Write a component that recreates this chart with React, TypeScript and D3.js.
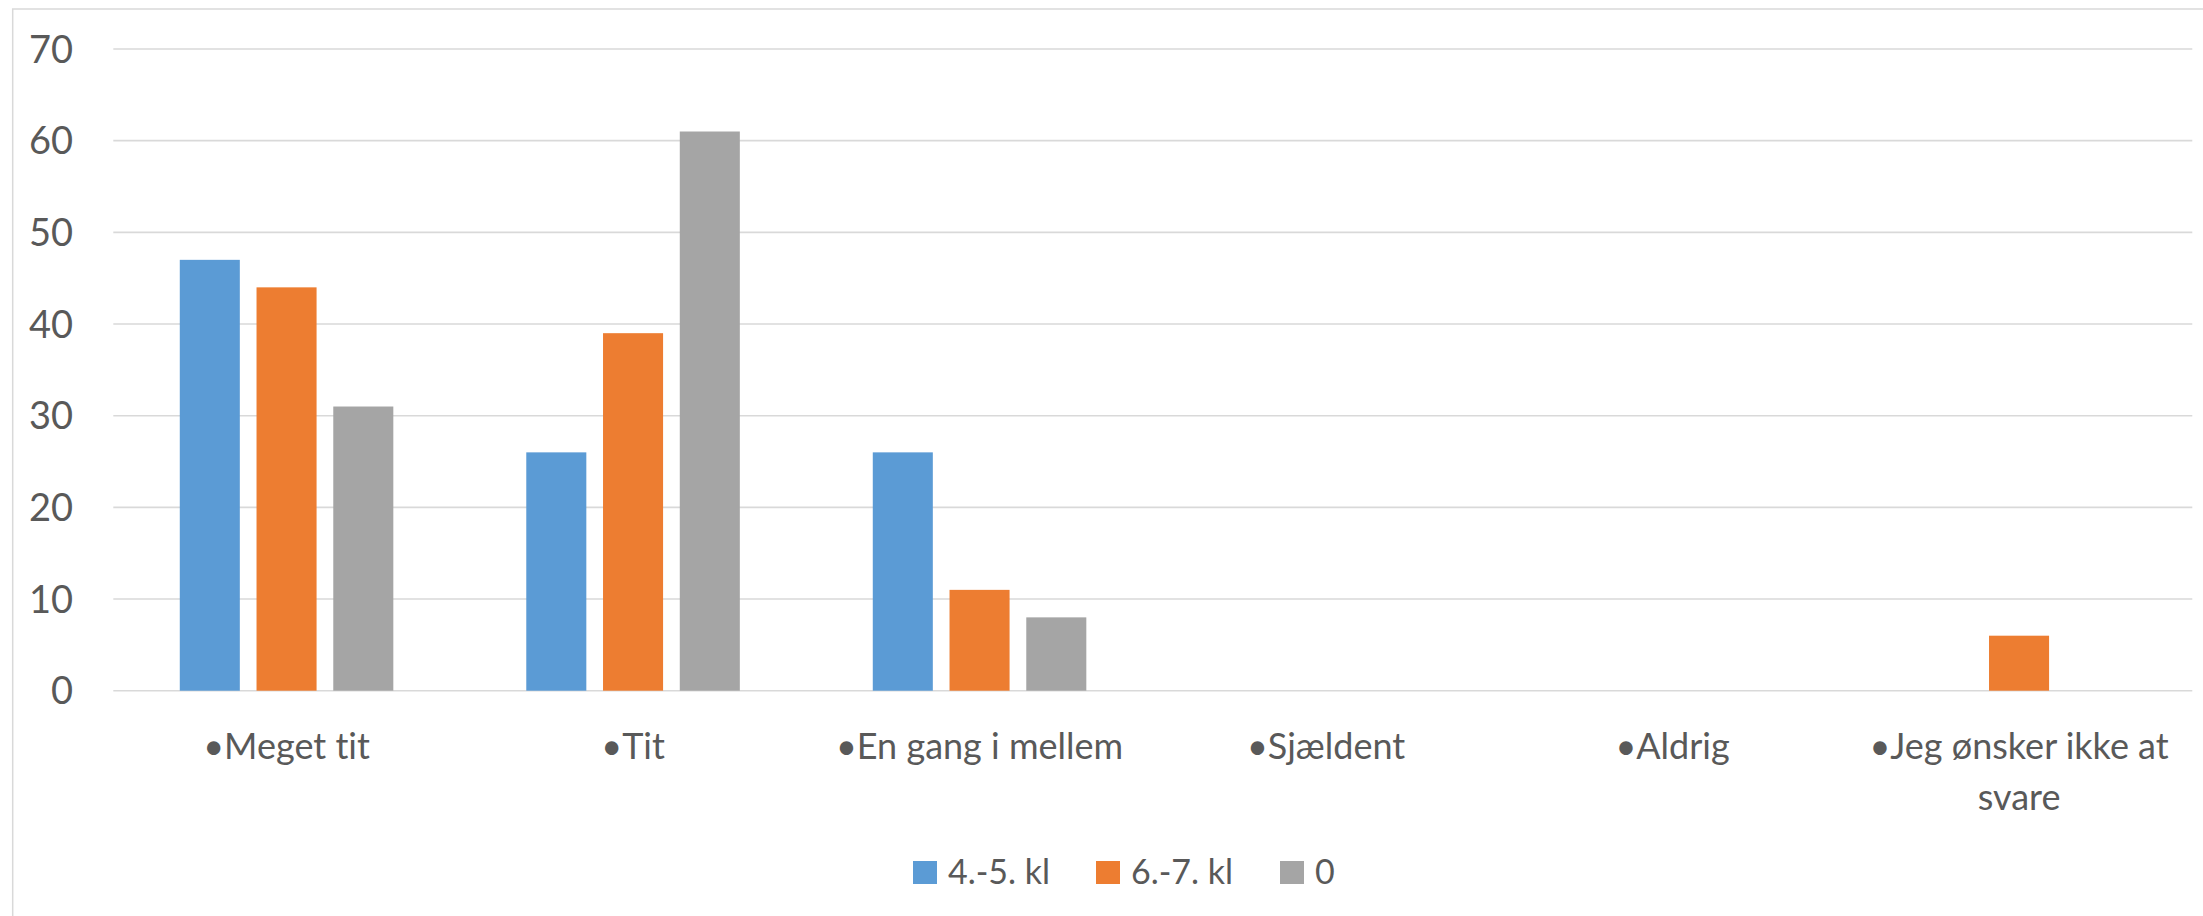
import React from "react";
import * as d3 from "d3";

const categories = [
  "Meget tit",
  "Tit",
  "En gang i mellem",
  "Sjældent",
  "Aldrig",
  "Jeg ønsker ikke at svare",
];
const seriesNames = ["4.-5. kl", "6.-7. kl", "0"];
const series45 = [47, 26, 26, 0, 0, 0];
const series67 = [44, 39, 11, 0, 0, 6];
const series0 = [31, 61, 8, 0, 0, 0];
const colors = ["#5B9BD5", "#ED7D31", "#A5A5A5"];
const yTicks = [0, 10, 20, 30, 40, 50, 60, 70];

const W = 2203;
const H = 916;
const FONT = "Lato, 'Open Sans', sans-serif";
const TEXT = "#595959";
const noLig = { fontVariantLigatures: "none", fontFeatureSettings: '"liga" 0, "clig" 0' } as React.CSSProperties;

export default function App() {
  const allSeries = [series45, series67, series0];
  const x0 = 113.3;
  const x1 = 2192.3;
  const yZero = 690.7;
  const yTop = 49;

  const x = d3.scaleBand<string>().domain(categories).range([x0, x1]).padding(0);
  const y = d3.scaleLinear().domain([0, 70]).range([yZero, yTop]);
  const band = x.bandwidth();
  const barW = band * 0.1733;
  const step = band * 0.2215;
  const groupW = 2 * step + barW;

  const wrapLabels: Record<string, string[]> = {
    "Jeg ønsker ikke at svare": ["•Jeg ønsker ikke at", "svare"],
  };

  const legendItems = [
    { name: seriesNames[0], sx: 913 },
    { name: seriesNames[1], sx: 1096 },
    { name: seriesNames[2], sx: 1280 },
  ];

  return (
    <svg
      width={W}
      height={H}
      style={{ position: "absolute", left: 0, top: 0, background: "#fff" }}
    >
      <rect x={0} y={0} width={W} height={H} fill="#fff" />
      <rect
        x={12.7}
        y={9}
        width={W + 50}
        height={H + 50}
        fill="none"
        stroke="#d9d9d9"
        strokeWidth={1.5}
      />
      {yTicks.map((t) => (
        <line
          key={"g" + t}
          x1={x0}
          x2={x1}
          y1={y(t)}
          y2={y(t)}
          stroke="#d9d9d9"
          strokeWidth={1.6}
        />
      ))}
      {yTicks.map((t) => (
        <text
          key={"t" + t}
          x={73}
          y={y(t) + 13.5}
          textAnchor="end"
          fontFamily={FONT}
          fontSize={38}
          fill={TEXT}
        >
          {t}
        </text>
      ))}
      {allSeries.map((vals, si) =>
        vals.map((v, ci) => {
          if (v <= 0) return null;
          const cx = (x(categories[ci]) as number) + band / 2;
          const bx = cx - groupW / 2 + si * step;
          return (
            <rect
              key={`b${si}-${ci}`}
              x={bx}
              y={y(v)}
              width={barW}
              height={yZero - y(v)}
              fill={colors[si]}
            />
          );
        })
      )}
      {categories.map((c) => {
        const cx = (x(c) as number) + band / 2;
        const lines = wrapLabels[c] || ["•" + c];
        return (
          <text
            key={"c" + c}
            textAnchor="middle"
            fontFamily={FONT}
            fontSize={36}
            fill={TEXT}
            style={noLig}
          >
            {lines.map((l, i) => (
              <tspan key={i} x={cx} y={759 + i * 51}>
                {l}
              </tspan>
            ))}
          </text>
        );
      })}
      {legendItems.map((it, i) => (
        <g key={"l" + i}>
          <rect x={it.sx} y={861} width={24} height={23} fill={colors[i]} />
          <text
            x={it.sx + 35}
            y={884}
            fontFamily={FONT}
            fontSize={34}
            fill={TEXT}
            style={noLig}
          >
            {it.name}
          </text>
        </g>
      ))}
    </svg>
  );
}
